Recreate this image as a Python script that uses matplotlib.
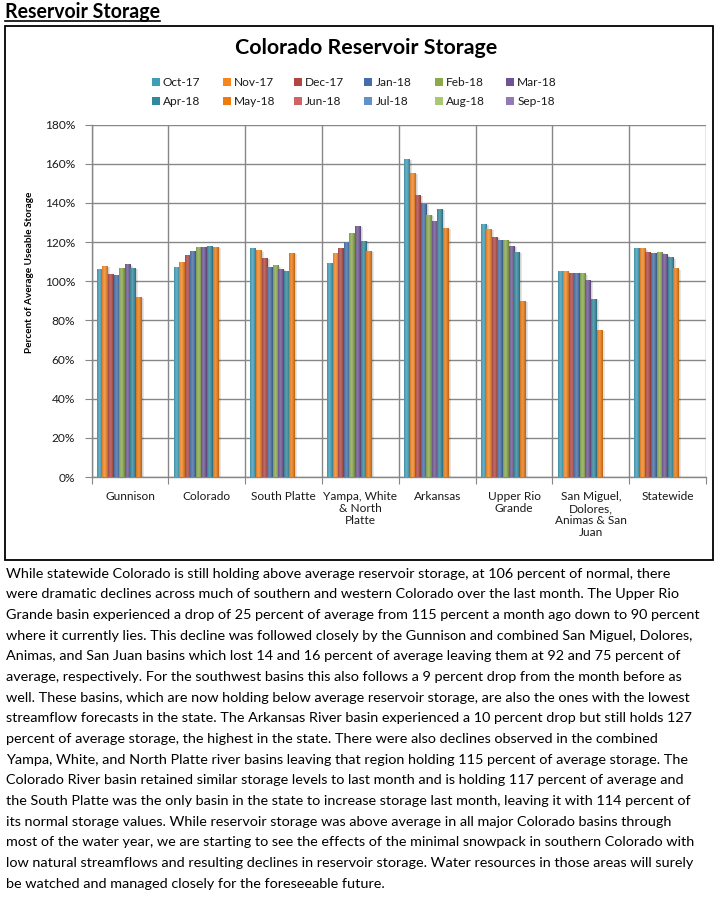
import numpy as np
import matplotlib
matplotlib.use('Agg')
import matplotlib.pyplot as plt
from matplotlib.patches import Rectangle
from matplotlib.lines import Line2D
import matplotlib.colors as mcolors

plt.rcParams['font.family'] = ['Lato', 'DejaVu Sans']

# ---------------- data ----------------
categories = ['Gunnison', 'Colorado', 'South Platte', 'Yampa, White\n& North\nPlatte',
              'Arkansas', 'Upper Rio\nGrande', 'San Miguel,\nDolores,\nAnimas & San\nJuan',
              'Statewide']
months = ['Oct-17', 'Nov-17', 'Dec-17', 'Jan-18', 'Feb-18', 'Mar-18',
          'Apr-18', 'May-18', 'Jun-18', 'Jul-18', 'Aug-18', 'Sep-18']
oct17 = [106.2, 107.2, 116.8, 109.1, 162.4, 129.1, 105.0, 116.8]
nov17 = [107.8, 109.6, 115.8, 114.2, 155.2, 126.7, 105.0, 116.8]
dec17 = [103.7, 113.2, 111.9, 116.8, 144.1, 122.6, 104.0, 114.8]
jan18 = [103.1, 115.3, 107.2, 120.2, 139.7, 121.2, 104.0, 114.2]
feb18 = [106.7, 117.3, 108.1, 124.7, 134.1, 121.2, 104.0, 114.8]
mar18 = [108.6, 117.7, 106.4, 128.2, 130.6, 118.2, 100.6, 113.7]
apr18 = [106.7, 118.0, 105.5, 120.7, 137.1, 115.1, 91.0, 112.2]
may18 = [91.9, 117.7, 114.6, 115.6, 127.2, 89.8, 75.0, 106.6]
jun18 = [np.nan] * 8
jul18 = [np.nan] * 8
aug18 = [np.nan] * 8
sep18 = [np.nan] * 8
series = [oct17, nov17, dec17, jan18, feb18, mar18, apr18, may18, jun18, jul18, aug18, sep18]
yticks = [0, 20, 40, 60, 80, 100, 120, 140, 160, 180]

colors = ['#3E9EB8', '#F7861E', '#B04542', '#426FA9', '#8AAA4C', '#6E5492',
          '#31889F', '#EF7A0E', '#D06462', '#5F92CC', '#A9C872', '#917AB5']

body = [
    "While statewide Colorado is still holding above average reservoir storage, at 106 percent of normal, there",
    "were dramatic declines across much of southern and western Colorado over the last month. The Upper Rio",
    "Grande basin experienced a drop of 25 percent of average from 115 percent a month ago down to 90 percent",
    "where it currently lies. This decline was followed closely by the Gunnison and combined San Miguel, Dolores,",
    "Animas, and San Juan basins which lost 14 and 16 percent of average leaving them at 92 and 75 percent of",
    "average, respectively. For the southwest basins this also follows a 9 percent drop from the month before as",
    "well. These basins, which are now holding below average reservoir storage, are also the ones with the lowest",
    "streamflow forecasts in the state. The Arkansas River basin experienced a 10 percent drop but still holds 127",
    "percent of average storage, the highest in the state. There were also declines observed in the combined",
    "Yampa, White, and North Platte river basins leaving that region holding 115 percent of average storage. The",
    "Colorado River basin retained similar storage levels to last month and is holding 117 percent of average and",
    "the South Platte was the only basin in the state to increase storage last month, leaving it with 114 percent of",
    "its normal storage values. While reservoir storage was above average in all major Colorado basins through",
    "most of the water year, we are starting to see the effects of the minimal snowpack in southern Colorado with",
    "low natural streamflows and resulting declines in reservoir storage. Water resources in those areas will surely",
    "be watched and managed closely for the foreseeable future.",
]

# ---------------- figure ----------------
W, H = 720, 902
fig = plt.figure(figsize=(W / 100, H / 100), dpi=100)
fig.patch.set_facecolor('white')


def fx(px):
    return px / W


def fy(py):
    return 1 - py / H


renderer = fig.canvas.get_renderer()


def fit(t, target, vertical=False):
    bb = t.get_window_extent(renderer=renderer)
    size = bb.height if vertical else bb.width
    t.set_fontsize(t.get_fontsize() * target / size)
    return t.get_fontsize()


# chart frame
fig.add_artist(Rectangle((fx(5), fy(559.5)), fx(712.5) - fx(5), fy(26) - fy(559.5),
                         transform=fig.transFigure, fill=False, edgecolor='black', lw=1.3))

# heading
hd = fig.text(fx(5), fy(12), 'Reservoir Storage', fontsize=13, fontweight='bold',
              ha='left', va='center', color='black')
fit(hd, 155)
fig.add_artist(Line2D([fx(5), fx(160)], [fy(21), fy(21)], transform=fig.transFigure,
                      color='black', lw=1.2))

# title
tt = fig.text(fx(366), fy(48), 'Colorado Reservoir Storage', fontsize=16, fontweight='bold',
              ha='center', va='center', color='black')
fit(tt, 263)

# axes
left, right, bottom, top = 91.7, 706, 477, 124.7
ax = fig.add_axes([fx(left), fy(bottom), fx(right) - fx(left), fy(top) - fy(bottom)])
ax.set_xlim(-0.5, 7.5)
ax.set_ylim(0, 180)

n = len(series)
w = 0.0725
x0 = np.arange(len(categories))
grid_c = '#878787'

for i, vals in enumerate(series):
    xs = x0 - 0.433 + w / 2 + i * w
    v = np.array(vals, dtype=float)
    # soft shadow
    ax.bar(xs + w * 0.45, v - 0.6, w, color='black', alpha=0.10, zorder=2, lw=0)
    ax.bar(xs + w * 0.25, v - 0.3, w, color='black', alpha=0.08, zorder=2, lw=0)
    bars = ax.bar(xs, v, w, color=colors[i], zorder=3, lw=0)
    base = np.array(mcolors.to_rgb(colors[i]))
    light = base + (1 - base) * 0.22
    dark = base * 0.78
    t = np.linspace(0, 1, 24)
    f = np.clip(1 - np.abs(t - 0.42) / 0.58, 0, 1) ** 0.8
    grad = dark[None, :] + (light - dark)[None, :] * f[:, None]
    grad = grad[None, :, :]
    for p in bars.patches:
        h = p.get_height()
        if not np.isfinite(h):
            continue
        im = ax.imshow(grad, extent=[p.get_x(), p.get_x() + p.get_width(), 0, h],
                       aspect='auto', interpolation='bilinear', zorder=3.1)
        im.set_clip_path(p)

ax.set_xlim(-0.5, 7.5)
ax.set_ylim(0, 180)
ax.set_aspect('auto')

# grid
ax.set_yticks(yticks)
ax.set_yticklabels([f'{v}%' for v in yticks])
ax.set_xticks(np.arange(-0.5, 8, 1))
ax.set_xticklabels([])
ax.set_xticks(x0, minor=True)
ax.set_xticklabels(categories, minor=True)
ax.grid(True, which='major', color=grid_c, lw=1.0, zorder=1)
ax.set_axisbelow(True)
for s in ['top', 'right']:
    ax.spines[s].set_visible(False)
for s in ['left', 'bottom']:
    ax.spines[s].set_color(grid_c)
    ax.spines[s].set_linewidth(1.0)
ax.tick_params(axis='y', which='major', length=5, color=grid_c, pad=7, labelsize=8.5,
               labelcolor='#1a1a1a')
ax.tick_params(axis='x', which='major', length=5, color=grid_c)
ax.tick_params(axis='x', which='minor', length=0, pad=10, labelsize=8.5, labelcolor='#1a1a1a')

fig.canvas.draw()
lab = [t for t in ax.get_xticklabels(minor=True) if t.get_text() == 'South Platte'][0]
bb = lab.get_window_extent(renderer=renderer)
fs = lab.get_fontsize() * 64.7 / bb.width
for t in ax.get_xticklabels(minor=True):
    t.set_fontsize(fs)
    t.set_linespacing(1.12)
for t in ax.get_yticklabels():
    t.set_fontsize(fs)

# y label
yl = fig.text(fx(30), fy(272), 'Percent of Average Useable Storage', rotation=90,
              fontsize=8, fontweight='bold', ha='center', va='center', color='black')
fit(yl, 163, vertical=True)

# legend (manual)
for i, m in enumerate(months):
    r, c = divmod(i, 6)
    mx = 151.7 + c * 70.9
    my = 82 + r * 19.3
    fig.add_artist(Rectangle((fx(mx), fy(my + 4)), fx(8), 8 / H, transform=fig.transFigure,
                             facecolor=colors[i], edgecolor='none'))
    fig.text(fx(mx + 11), fy(my), m, fontsize=fs, ha='left', va='center', color='#1a1a1a')

# body text
btexts = []
for k, line in enumerate(body):
    btexts.append(fig.text(fx(6.5), fy(573.5 + k * 20.67), line, fontsize=10, ha='left',
                           va='center', color='black'))
maxw = max(t.get_window_extent(renderer=renderer).width for t in btexts)
bfs = 10 * 694 / maxw
for t in btexts:
    t.set_fontsize(bfs)

fig.savefig('out.png', dpi=100, facecolor='white')
